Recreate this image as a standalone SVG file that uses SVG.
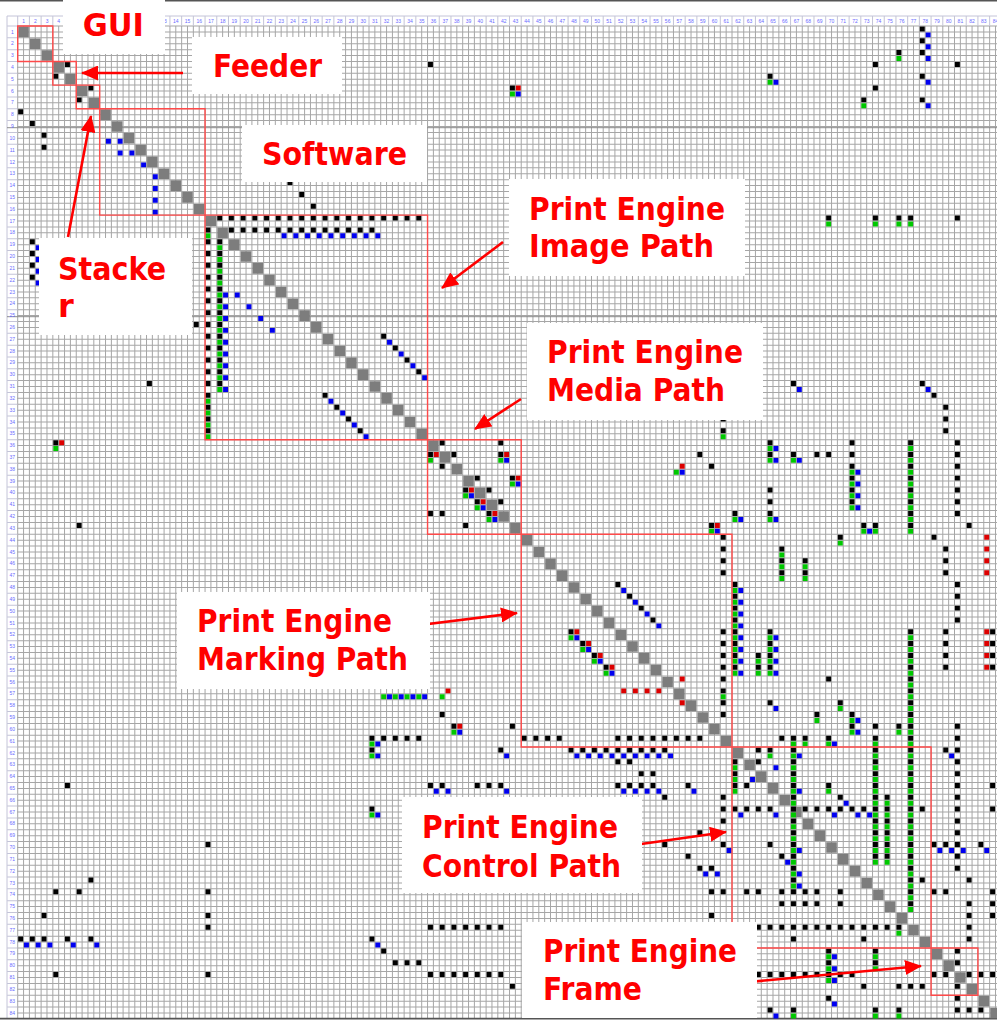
<svg xmlns="http://www.w3.org/2000/svg" width="997" height="1020" viewBox="0 0 997 1020">
<defs>
<style>
.m{fill:none;stroke-width:.42}
.d{stroke-dasharray:.42 .58}
.k{stroke:#000}.r{stroke:#dd0000}.g{stroke:#00c800}.b{stroke:#0000f0}
.hn{font-family:"Liberation Sans",Arial,sans-serif;font-size:5px;fill:#6b6bff;text-anchor:middle}
.lb{font-family:"DejaVu Sans","Liberation Sans",sans-serif;font-weight:bold;font-size:32px;fill:#ff0000}
.box{fill:none;stroke:#ff4a4a;stroke-width:1.4}
.arw{stroke:#ff0000;stroke-width:2.6;fill:none;marker-end:url(#ah)}
</style>
<marker id="ah" markerUnits="userSpaceOnUse" markerWidth="17" markerHeight="15" refX="16" refY="7.5" orient="auto"><path d="M0,0L17,7.5L0,15z" fill="#ff0000"/></marker>
</defs>
<rect width="997" height="1020" fill="#fff"/>
<g id="grid">
<line x1="17.2" y1="522" x2="998" y2="522" stroke="#a6a6a6" stroke-width="992" stroke-dasharray="1 4.855"/>
<line x1="507" y1="25.5" x2="507" y2="1019" stroke="#a6a6a6" stroke-width="980" stroke-dasharray="1 4.91"/>
<line x1="17.2" y1="21" x2="998" y2="21" stroke="#c4c4d8" stroke-width="10" stroke-dasharray="1 10.71"/>
<line x1="12.4" y1="25.5" x2="12.4" y2="1019" stroke="#c4c4d8" stroke-width="10.6" stroke-dasharray="1 10.82"/>
<path d="M7 16H997M7 16V1019" stroke="#c4c4d8" fill="none"/>
<path d="M7 127.7H997M7 316.7H997" stroke="#8c8c8c" stroke-width="1" fill="none"/>
<path d="M0 .8H997M0 1018.6H997" stroke="#555" stroke-width="1.6" fill="none"/>
</g>
<g id="headers">
<text class="hn" y="23.3"><tspan x="23.6">1</tspan><tspan x="35.31">2</tspan><tspan x="47.02">3</tspan><tspan x="58.73">4</tspan><tspan x="164.12">13</tspan><tspan x="175.83">14</tspan><tspan x="187.54">15</tspan><tspan x="199.25">16</tspan><tspan x="210.96">17</tspan><tspan x="222.67">18</tspan><tspan x="234.38">19</tspan><tspan x="246.09">20</tspan><tspan x="257.8">21</tspan><tspan x="269.51">22</tspan><tspan x="281.22">23</tspan><tspan x="292.93">24</tspan><tspan x="304.64">25</tspan><tspan x="316.35">26</tspan><tspan x="328.06">27</tspan><tspan x="339.77">28</tspan><tspan x="351.48">29</tspan><tspan x="363.19">30</tspan><tspan x="374.9">31</tspan><tspan x="386.61">32</tspan><tspan x="398.32">33</tspan><tspan x="410.03">34</tspan><tspan x="421.74">35</tspan><tspan x="433.45">36</tspan><tspan x="445.16">37</tspan><tspan x="456.87">38</tspan><tspan x="468.58">39</tspan><tspan x="480.29">40</tspan><tspan x="492">41</tspan><tspan x="503.71">42</tspan><tspan x="515.42">43</tspan><tspan x="527.13">44</tspan><tspan x="538.84">45</tspan><tspan x="550.55">46</tspan><tspan x="562.26">47</tspan><tspan x="573.97">48</tspan><tspan x="585.68">49</tspan><tspan x="597.39">50</tspan><tspan x="609.1">51</tspan><tspan x="620.81">52</tspan><tspan x="632.52">53</tspan><tspan x="644.23">54</tspan><tspan x="655.94">55</tspan><tspan x="667.65">56</tspan><tspan x="679.36">57</tspan><tspan x="691.07">58</tspan><tspan x="702.78">59</tspan><tspan x="714.49">60</tspan><tspan x="726.2">61</tspan><tspan x="737.91">62</tspan><tspan x="749.62">63</tspan><tspan x="761.33">64</tspan><tspan x="773.04">65</tspan><tspan x="784.75">66</tspan><tspan x="796.46">67</tspan><tspan x="808.17">68</tspan><tspan x="819.88">69</tspan><tspan x="831.59">70</tspan><tspan x="843.3">71</tspan><tspan x="855.01">72</tspan><tspan x="866.72">73</tspan><tspan x="878.43">74</tspan><tspan x="890.14">75</tspan><tspan x="901.85">76</tspan><tspan x="913.56">77</tspan><tspan x="925.27">78</tspan><tspan x="936.98">79</tspan><tspan x="948.69">80</tspan><tspan x="960.4">81</tspan><tspan x="972.11">82</tspan><tspan x="983.82">83</tspan><tspan x="995.53">84</tspan></text>
<text class="hn"><tspan x="12.3" y="33.5">1</tspan><tspan x="12.3" y="45.32">2</tspan><tspan x="12.3" y="57.14">3</tspan><tspan x="12.3" y="68.96">4</tspan><tspan x="12.3" y="80.78">5</tspan><tspan x="12.3" y="92.6">6</tspan><tspan x="12.3" y="104.42">7</tspan><tspan x="12.3" y="116.24">8</tspan><tspan x="12.3" y="128.06">9</tspan><tspan x="12.3" y="139.88">10</tspan><tspan x="12.3" y="151.7">11</tspan><tspan x="12.3" y="163.52">12</tspan><tspan x="12.3" y="175.34">13</tspan><tspan x="12.3" y="187.16">14</tspan><tspan x="12.3" y="198.98">15</tspan><tspan x="12.3" y="210.8">16</tspan><tspan x="12.3" y="222.62">17</tspan><tspan x="12.3" y="234.44">18</tspan><tspan x="12.3" y="246.26">19</tspan><tspan x="12.3" y="258.08">20</tspan><tspan x="12.3" y="269.9">21</tspan><tspan x="12.3" y="281.72">22</tspan><tspan x="12.3" y="293.54">23</tspan><tspan x="12.3" y="305.36">24</tspan><tspan x="12.3" y="317.18">25</tspan><tspan x="12.3" y="329">26</tspan><tspan x="12.3" y="340.82">27</tspan><tspan x="12.3" y="352.64">28</tspan><tspan x="12.3" y="364.46">29</tspan><tspan x="12.3" y="376.28">30</tspan><tspan x="12.3" y="388.1">31</tspan><tspan x="12.3" y="399.92">32</tspan><tspan x="12.3" y="411.74">33</tspan><tspan x="12.3" y="423.56">34</tspan><tspan x="12.3" y="435.38">35</tspan><tspan x="12.3" y="447.2">36</tspan><tspan x="12.3" y="459.02">37</tspan><tspan x="12.3" y="470.84">38</tspan><tspan x="12.3" y="482.66">39</tspan><tspan x="12.3" y="494.48">40</tspan><tspan x="12.3" y="506.3">41</tspan><tspan x="12.3" y="518.12">42</tspan><tspan x="12.3" y="529.94">43</tspan><tspan x="12.3" y="541.76">44</tspan><tspan x="12.3" y="553.58">45</tspan><tspan x="12.3" y="565.4">46</tspan><tspan x="12.3" y="577.22">47</tspan><tspan x="12.3" y="589.04">48</tspan><tspan x="12.3" y="600.86">49</tspan><tspan x="12.3" y="612.68">50</tspan><tspan x="12.3" y="624.5">51</tspan><tspan x="12.3" y="636.32">52</tspan><tspan x="12.3" y="648.14">53</tspan><tspan x="12.3" y="659.96">54</tspan><tspan x="12.3" y="671.78">55</tspan><tspan x="12.3" y="683.6">56</tspan><tspan x="12.3" y="695.42">57</tspan><tspan x="12.3" y="707.24">58</tspan><tspan x="12.3" y="719.06">59</tspan><tspan x="12.3" y="730.88">60</tspan><tspan x="12.3" y="742.7">61</tspan><tspan x="12.3" y="754.52">62</tspan><tspan x="12.3" y="766.34">63</tspan><tspan x="12.3" y="778.16">64</tspan><tspan x="12.3" y="789.98">65</tspan><tspan x="12.3" y="801.8">66</tspan><tspan x="12.3" y="813.62">67</tspan><tspan x="12.3" y="825.44">68</tspan><tspan x="12.3" y="837.26">69</tspan><tspan x="12.3" y="849.08">70</tspan><tspan x="12.3" y="860.9">71</tspan><tspan x="12.3" y="872.72">72</tspan><tspan x="12.3" y="884.54">73</tspan><tspan x="12.3" y="896.36">74</tspan><tspan x="12.3" y="908.18">75</tspan><tspan x="12.3" y="920">76</tspan><tspan x="12.3" y="931.82">77</tspan><tspan x="12.3" y="943.64">78</tspan><tspan x="12.3" y="955.46">79</tspan><tspan x="12.3" y="967.28">80</tspan><tspan x="12.3" y="979.1">81</tspan><tspan x="12.3" y="990.92">82</tspan><tspan x="12.3" y="1002.74">83</tspan><tspan x="12.3" y="1014.56">84</tspan></text>
</g>
<g id="matrix" transform="translate(17.7 26) scale(11.71 11.82)">
<path id="diagonal" transform="translate(-.95 -.5)" fill="none" stroke="#7d7d7d" stroke-width=".9" d="M1 1h.9M2 2h.9M3 3h.9M4 4h.9M5 5h.9M6 6h.9M7 7h.9M8 8h.9M9 9h.9M10 10h.9M11 11h.9M12 12h.9M13 13h.9M14 14h.9M15 15h.9M16 16h.9M17 17h.9M18 18h.9M19 19h.9M20 20h.9M21 21h.9M22 22h.9M23 23h.9M24 24h.9M25 25h.9M26 26h.9M27 27h.9M28 28h.9M29 29h.9M30 30h.9M31 31h.9M32 32h.9M33 33h.9M34 34h.9M35 35h.9M36 36h.9M37 37h.9M38 38h.9M39 39h.9M40 40h.9M41 41h.9M42 42h.9M43 43h.9M44 44h.9M45 45h.9M46 46h.9M47 47h.9M48 48h.9M49 49h.9M50 50h.9M51 51h.9M52 52h.9M53 53h.9M54 54h.9M55 55h.9M56 56h.9M57 57h.9M58 58h.9M59 59h.9M60 60h.9M61 61h.9M62 62h.9M63 63h.9M64 64h.9M65 65h.9M66 66h.9M67 67h.9M68 68h.9M69 69h.9M70 70h.9M71 71h.9M72 72h.9M73 73h.9M74 74h.9M75 75h.9M76 76h.9M77 77h.9M78 78h.9M79 79h.9M80 80h.9M81 81h.9M82 82h.9M83 83h.9M84 84h.9"/>
<g id="marks-black" class="k">
<g transform="translate(-.96 -.75)">
<path class="m" d="M5 4h.42M4 5h.42M7 6h.42M6 7h.42M1 8h.42M2 9h.42M3 10h.42M3 11h.42M24 14h.42M25 15h.42M26 16h.42M36 4h.42M17 18h.42M32 27h.42M33 28h.42M34 29h.42M35 30h.42M27 32h.42M28 33h.42M29 34h.42M30 35h.42M16 26h.42M12 31h.42M4 36h.42M6 43h.42M37 36h.42M42 36h.42M36 37h.42M38 37h.42M42 37h.42M37 38h.42M40 39h.42M43 39h.42M39 40h.42M41 40h.42M40 41h.42M42 41h.42M41 42h.42M36 42h.42M37 42h.42M39 43h.42M78 1h.42M78 2h.42M78 3h.42M76 3h.42M74 4h.42M81 4h.42M65 5h.42M43 6h.42M74 6h.42M78 5h.42M73 7h.42M78 7h.42M70 17h.42M74 17h.42M76 17h.42M77 17h.42M81 17h.42M67 31h.42M78 31h.42M79 32h.42M65 36h.42M65 37h.42M67 37h.42M69 37h.42M70 37h.42M59 37h.42M60 38h.42M62 42h.42M60 43h.42M73 43h.42M74 43h.42M82 43h.42M79 44h.42M71 44h.42M37 59h.42M38 60h.42M31 61h.42M31 62h.42M42 62h.42M5 65h.42M36 65h.42M37 65h.42M40 65h.42M41 65h.42M42 65h.42M31 67h.42M17 70h.42M7 73h.42M4 74h.42M6 74h.42M17 74h.42M3 76h.42M17 76h.42M17 77h.42M1 78h.42M2 78h.42M3 78h.42M5 78h.42M7 78h.42M31 78h.42M32 79h.42M4 81h.42M17 81h.42"/>
<path class="m" d="M52 48h.42M53 49h.42M54 50h.42M55 51h.42M48 52h.42M49 53h.42M50 54h.42M51 55h.42M70 56h.42M65 58h.42M71 58h.42M69 59h.42M72 59h.42M43 60h.42M72 60h.42M74 60h.42M76 60h.42M66 61h.42M68 61h.42M70 61h.42M64 62h.42M65 62h.42M80 62h.42M52 63h.42M53 63h.42M64 63h.42M54 64h.42M55 64h.42M58 65h.42M63 65h.42M70 65h.42M84 65h.42M56 66h.42M61 66h.42M71 66h.42M61 67h.42M78 67h.42M84 67h.42M61 68h.42M59 69h.42M56 70h.42M61 70h.42M65 70h.42M79 70h.42M80 70h.42M83 70h.42M58 71h.42M66 71h.42M59 72h.42M60 72h.42M78 73h.42M82 73h.42M60 74h.42M61 74h.42M63 74h.42M64 74h.42M71 74h.42M79 74h.42M80 74h.42M84 74h.42M71 75h.42M82 75h.42M84 75h.42M60 76h.42M82 76h.42M84 76h.42M76 77h.42M82 77h.42M67 78h.42M73 78h.42M82 78h.42M70 79h.42M74 79h.42M81 79h.42M70 80h.42M74 80h.42M81 80h.42M79 81h.42M80 81h.42M82 81h.42M83 81h.42M84 81h.42M43 82h.42M73 82h.42M76 82h.42M77 82h.42M78 82h.42M81 82h.42M70 83h.42M81 83h.42M65 84h.42M67 84h.42M74 84h.42M76 84h.42M81 84h.42M82 84h.42M83 84h.42"/>
<path class="m d" d="M18 17h17.42"/><path class="m d" d="M19 18h12.42"/><path class="m d" d="M32 61h3.42"/><path class="m d" d="M36 77h6.42"/><path class="m d" d="M33 80h2.42"/><path class="m d" d="M36 81h6.42"/>
<path class="m d" d="M44 61h3.42"/><path class="m d" d="M52 61h7.42"/><path class="m d" d="M48 62h8.42"/><path class="m d" d="M52 65h3.42"/><path class="m d" d="M62 67h3.42"/><path class="m d" d="M68 67h5.42"/><path class="m d" d="M66 74h3.42"/><path class="m d" d="M66 75h3.42"/><path class="m d" d="M64 77h11.42"/><path class="m d" d="M64 81h8.42"/>
</g>
<g transform="translate(-.75 -.96)">
<path class="m d" d="M17 19v16.42"/><path class="m d" d="M18 19v12.42"/><path class="m d" d="M2 19v3.42"/><path class="m d" d="M80 33v2.42"/><path class="m d" d="M61 34v1.42"/><path class="m d" d="M61 44v3.42"/><path class="m d" d="M72 36v5.42"/><path class="m d" d="M65 40v2.42"/><path class="m d" d="M77 36v7.42"/><path class="m d" d="M81 36v6.42"/><path class="m d" d="M80 45v2.42"/><path class="m d" d="M81 48v3.42"/><path class="m d" d="M80 52v3.42"/><path class="m d" d="M66 45v2.42"/><path class="m d" d="M68 46v1.42"/>
<path class="m d" d="M62 48v7.42"/><path class="m d" d="M61 52v7.42"/><path class="m d" d="M65 52v3.42"/><path class="m d" d="M64 54v1.42"/><path class="m d" d="M77 52v23.42"/><path class="m d" d="M84 52v3.42"/><path class="m d" d="M67 61v12.42"/><path class="m d" d="M74 61v10.42"/><path class="m d" d="M75 66v5.42"/><path class="m d" d="M81 60v12.42"/><path class="m d" d="M62 63v2.42"/>
</g>
</g>
<g id="marks-red" class="r">
<g transform="translate(-.46 -.75)">
<path class="m" d="M4 36h.42M36 37h.42M42 37h.42M43 39h.42M39 40h.42M40 41h.42M41 42h.42M43 6h.42M57 38h.42M60 43h.42M37 57h.42M38 60h.42M57 56h.42M57 58h.42M48 52h.42M49 53h.42M50 54h.42M51 55h.42"/>
<path class="m d" d="M52 57h3.42"/>
</g>
<g transform="translate(-.25 -.96)"><path class="m d" d="M83 44v3.42"/><path class="m d" d="M83 52v3.42"/></g>
</g>
<g id="marks-green" class="g">
<g transform="translate(-.96 -.25)">
<path class="m" d="M4 36h.42M36 37h.42M42 37h.42M43 39h.42M39 40h.42M40 41h.42M41 42h.42M43 6h.42M76 3h.42M65 5h.42M73 7h.42M70 17h.42M74 17h.42M76 17h.42M77 17h.42M17 18h.42M61 35h.42M65 36h.42M65 37h.42M67 37h.42M65 42h.42M62 42h.42M60 43h.42M73 43h.42M74 43h.42M71 44h.42M57 38h.42M37 57h.42M38 60h.42M31 61h.42M31 62h.42M31 67h.42"/>
<path class="m" d="M48 52h.42M49 53h.42M50 54h.42M51 55h.42M61 57h.42M71 58h.42M69 59h.42M72 59h.42M72 60h.42M76 60h.42M68 61h.42M70 61h.42M65 62h.42M70 65h.42M76 77h.42M70 79h.42M74 79h.42M70 80h.42M74 80h.42M70 81h.42M67 84h.42M74 84h.42M76 84h.42"/>
<path class="m d" d="M32 57h3.42"/>
</g>
<g transform="translate(-.75 -.46)">
<path class="m d" d="M17 32v3.42"/><path class="m d" d="M18 19v12.42"/><path class="m d" d="M72 38v3.42"/><path class="m d" d="M77 36v7.42"/><path class="m d" d="M66 45v2.42"/><path class="m d" d="M68 46v1.42"/>
<path class="m d" d="M62 48v7.42"/><path class="m d" d="M65 52v3.42"/><path class="m d" d="M64 54v1.42"/><path class="m d" d="M77 52v23.42"/><path class="m d" d="M67 61v12.42"/><path class="m d" d="M74 61v10.42"/><path class="m d" d="M75 66v5.42"/><path class="m d" d="M62 63v2.42"/>
</g>
</g>
<g id="marks-blue" class="b">
<g transform="translate(-.46 -.25)">
<path class="m" d="M8 10h.42M9 10h.42M9 11h.42M10 11h.42M11 12h.42M19 23h.42M20 24h.42M21 25h.42M22 26h.42M32 27h.42M33 28h.42M34 29h.42M35 30h.42M27 32h.42M28 33h.42M29 34h.42M30 35h.42M42 37h.42M43 39h.42M39 40h.42M40 41h.42M41 42h.42M43 6h.42M78 1h.42M78 2h.42M78 3h.42M78 5h.42M78 7h.42M65 5h.42M67 31h.42M78 31h.42M65 36h.42M65 37h.42M67 37h.42M65 42h.42M62 42h.42M60 43h.42M73 43h.42M57 38h.42M38 60h.42M31 61h.42M31 62h.42M36 65h.42M37 65h.42M31 67h.42M1 78h.42M2 78h.42M3 78h.42M5 78h.42M7 78h.42M31 78h.42"/>
<path class="m" d="M52 48h.42M53 49h.42M54 50h.42M55 51h.42M48 52h.42M49 53h.42M50 54h.42M51 55h.42M65 58h.42M72 59h.42M72 60h.42M70 61h.42M42 62h.42M67 62h.42M80 62h.42M65 63h.42M63 64h.42M42 65h.42M58 65h.42M67 65h.42M71 66h.42M62 67h.42M65 67h.42M70 67h.42M72 67h.42M73 67h.42M61 70h.42M67 70h.42M79 70h.42M80 70h.42M81 70h.42M83 70h.42M66 71h.42M59 72h.42M60 72h.42M67 72h.42M67 73h.42M70 79h.42M70 80h.42M70 81h.42M70 83h.42M65 84h.42"/>
<path class="m d" d="M23 18h8.42"/><path class="m d" d="M32 57h3.42"/><path class="m d" d="M48 62h8.42"/><path class="m d" d="M52 65h3.42"/>
</g>
<g transform="translate(-.25 -.46)">
<path class="m d" d="M12 13v3.42"/><path class="m d" d="M18 23v8.42"/><path class="m d" d="M2 19v3.42"/><path class="m d" d="M72 38v3.42"/><path class="m d" d="M62 48v7.42"/><path class="m d" d="M65 52v3.42"/>
</g>
</g>
<g id="clusters" class="box">
<rect x="0" y="0" width="3" height="3" vector-effect="non-scaling-stroke"/>
<rect x="3" y="3" width="2" height="2" vector-effect="non-scaling-stroke"/>
<rect x="5" y="5" width="2" height="2" vector-effect="non-scaling-stroke"/>
<rect x="7" y="7" width="9" height="9" vector-effect="non-scaling-stroke"/>
<rect x="16" y="16" width="19" height="19" vector-effect="non-scaling-stroke"/>
<rect x="35" y="35" width="8" height="8" vector-effect="non-scaling-stroke"/>
<rect x="43" y="43" width="18" height="18" vector-effect="non-scaling-stroke"/>
<rect x="61" y="61" width="17" height="17" vector-effect="non-scaling-stroke"/>
<rect x="78" y="78" width="4" height="4" vector-effect="non-scaling-stroke"/>
</g>
</g>
<g id="connectors">
<line class="arw" x1="183" y1="73" x2="82" y2="73"/>
<line class="arw" x1="68" y1="237" x2="91" y2="116"/>
<line class="arw" x1="503" y1="242" x2="442" y2="288"/>
<line class="arw" x1="521" y1="399" x2="475" y2="429"/>
<line class="arw" x1="412" y1="626" x2="517" y2="613"/>
<line class="arw" x1="620" y1="847" x2="726" y2="832"/>
<line class="arw" x1="738" y1="983" x2="921" y2="966"/>
</g>
<g id="label-gui"><rect x="63" y="0" width="102" height="54" fill="#fff"/><text class="lb" x="82.7" y="36" font-size="31" textLength="61.3" lengthAdjust="spacingAndGlyphs">GUI</text></g>
<g id="label-feeder"><rect x="192" y="37" width="150" height="57" fill="#fff"/><text class="lb" x="213" y="77.3" textLength="109" lengthAdjust="spacingAndGlyphs">Feeder</text></g>
<g id="label-software"><rect x="242" y="125" width="185" height="57" fill="#fff"/><text class="lb" x="262" y="165" textLength="145" lengthAdjust="spacingAndGlyphs">Software</text></g>
<g id="label-stacker"><rect x="39" y="238" width="153" height="97" fill="#fff"/><text class="lb" x="58" y="280" textLength="108" lengthAdjust="spacingAndGlyphs">Stacke</text><text class="lb" x="58" y="317">r</text></g>
<g id="label-image"><rect x="509" y="179" width="236" height="97" fill="#fff"/><text class="lb" x="529" y="220" textLength="196" lengthAdjust="spacingAndGlyphs">Print Engine</text><text class="lb" x="529" y="257" textLength="185" lengthAdjust="spacingAndGlyphs">Image Path</text></g>
<g id="label-media"><rect x="527" y="323" width="236" height="97" fill="#fff"/><text class="lb" x="547" y="363" textLength="196" lengthAdjust="spacingAndGlyphs">Print Engine</text><text class="lb" x="547" y="401" textLength="178" lengthAdjust="spacingAndGlyphs">Media Path</text></g>
<g id="label-marking"><rect x="177" y="592" width="253" height="97" fill="#fff"/><text class="lb" x="197" y="632" textLength="195" lengthAdjust="spacingAndGlyphs">Print Engine</text><text class="lb" x="197" y="670" textLength="211" lengthAdjust="spacingAndGlyphs">Marking Path</text></g>
<g id="label-control"><rect x="402" y="797" width="240" height="96" fill="#fff"/><text class="lb" x="422" y="838" textLength="196" lengthAdjust="spacingAndGlyphs">Print Engine</text><text class="lb" x="422" y="877" textLength="199" lengthAdjust="spacingAndGlyphs">Control Path</text></g>
<g id="label-frame"><rect x="522" y="922" width="235" height="96" fill="#fff"/><text class="lb" x="543" y="962" textLength="194" lengthAdjust="spacingAndGlyphs">Print Engine</text><text class="lb" x="543" y="1000" textLength="99" lengthAdjust="spacingAndGlyphs">Frame</text></g>
</svg>
